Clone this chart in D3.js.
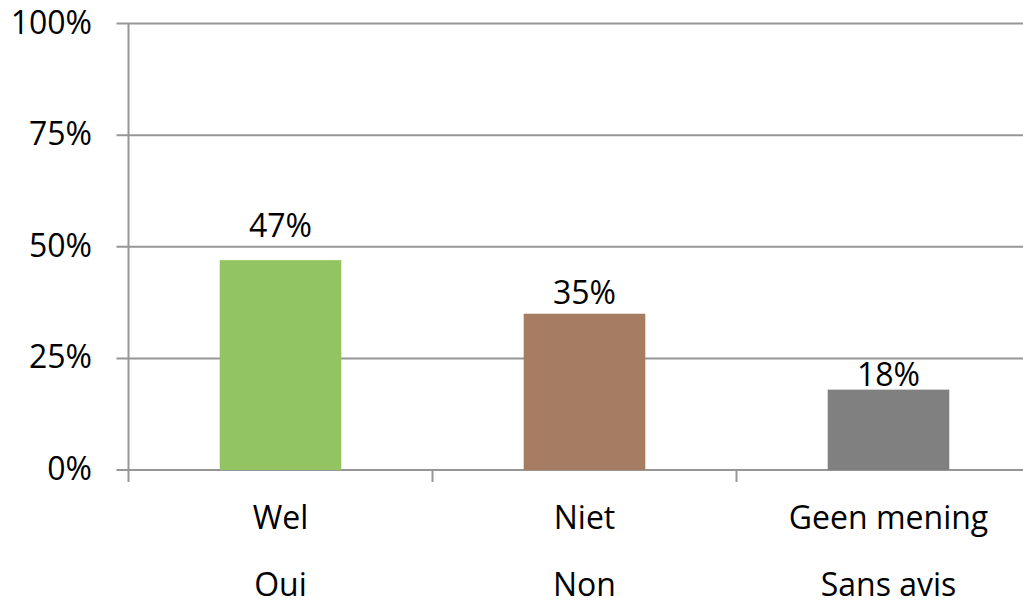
<!DOCTYPE html>
<html>
<head>
<meta charset="utf-8">
<script src="https://cdn.jsdelivr.net/npm/d3@7/dist/d3.min.js"></script>
<style>
  html, body { margin: 0; padding: 0; background: #fff; }
  svg text { font-family: "Open Sans", Lato, sans-serif; fill: #000; }
</style>
</head>
<body>
<div id="chart"></div>
<script>
const categoriesNl = ['Wel', 'Niet', 'Geen mening'];
const categoriesFr = ['Oui', 'Non', 'Sans avis'];
const values = [47, 35, 18];
const yTicks = [0, 25, 50, 75, 100];
const barColors = ['#92c462', '#a67c62', '#808080'];

// label lift above each bar (Excel labels were not evenly placed)
const labelLift = [23, 10, 4];

const width = 1023, height = 605;
const margin = {left: 128.5, top: 23.5};
const plotBottom = 470;
const bandW = 304;
const fontSize = '32px';

const svg = d3.select('#chart').append('svg')
    .attr('width', width)
    .attr('height', height);

const x = d3.scaleBand()
    .domain(categoriesNl)
    .range([margin.left, margin.left + bandW * categoriesNl.length])
    .paddingInner(0.6)
    .paddingOuter(0.3);

const y = d3.scaleLinear()
    .domain([0, 100])
    .range([plotBottom, margin.top]);

const lineColor = '#969696';

// gridlines
svg.append('g')
    .selectAll('line')
    .data(yTicks)
    .join('line')
    .attr('x1', margin.left - 12)
    .attr('x2', width)
    .attr('y1', d => y(d))
    .attr('y2', d => y(d))
    .attr('stroke', lineColor)
    .attr('stroke-width', 2);

// y axis line
svg.append('line')
    .attr('x1', margin.left).attr('x2', margin.left)
    .attr('y1', y(100)).attr('y2', plotBottom + 12)
    .attr('stroke', lineColor)
    .attr('stroke-width', 2);

// x tick marks at band boundaries
const bounds = categoriesNl.map((c, i) => margin.left + i * bandW);
svg.append('g')
    .selectAll('line')
    .data(bounds.slice(1))
    .join('line')
    .attr('x1', d => d).attr('x2', d => d)
    .attr('y1', plotBottom).attr('y2', plotBottom + 12)
    .attr('stroke', lineColor)
    .attr('stroke-width', 2);

// y labels
svg.append('g')
    .selectAll('text')
    .data(yTicks)
    .join('text')
    .attr('x', 92)
    .attr('y', d => y(d) + 10)
    .attr('text-anchor', 'end')
    .style('font-size', fontSize)
    .text(d => d + '%');

// bars
svg.append('g')
    .selectAll('rect')
    .data(values)
    .join('rect')
    .attr('x', (d, i) => x(categoriesNl[i]))
    .attr('y', d => y(d))
    .attr('width', x.bandwidth())
    .attr('height', d => plotBottom - y(d))
    .attr('fill', (d, i) => barColors[i]);

// value labels
svg.append('g')
    .selectAll('text')
    .data(values)
    .join('text')
    .attr('x', (d, i) => x(categoriesNl[i]) + x.bandwidth() / 2)
    .attr('y', (d, i) => y(d) - labelLift[i])
    .attr('text-anchor', 'middle')
    .style('font-size', fontSize)
    .text(d => d + '%');

// category labels
const cx = c => x(c) + x.bandwidth() / 2;
svg.append('g')
    .selectAll('text')
    .data(categoriesNl)
    .join('text')
    .attr('x', d => cx(d))
    .attr('y', 529)
    .attr('text-anchor', 'middle')
    .style('font-size', fontSize)
    .text(d => d);

svg.append('g')
    .selectAll('text')
    .data(categoriesFr)
    .join('text')
    .attr('x', (d, i) => cx(categoriesNl[i]))
    .attr('y', 596)
    .attr('text-anchor', 'middle')
    .style('font-size', fontSize)
    .text(d => d);
</script>
</body>
</html>
